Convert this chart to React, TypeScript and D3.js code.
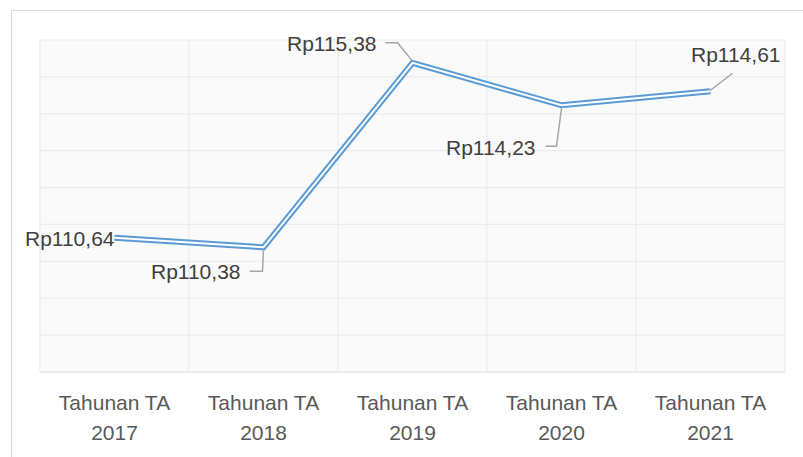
import React, { useEffect, useRef } from 'react';
import * as d3 from 'd3';

// data
const categories = ['Tahunan TA 2017', 'Tahunan TA 2018', 'Tahunan TA 2019', 'Tahunan TA 2020', 'Tahunan TA 2021'];
const values = [110.64, 110.38, 115.38, 114.23, 114.61];
const labels = ['Rp110,64', 'Rp110,38', 'Rp115,38', 'Rp114,23', 'Rp114,61'];
const yDomain = [107, 116];

// label placement relative to the point: text anchor point + leader polyline (dx, dy)
const labelPlacement = [
  { tx: 0, ty: 8, anchor: 'end', leader: null },
  { tx: -23, ty: 32, anchor: 'end', leader: [[-14, 24], [-1, 24], [0, 2]] },
  { tx: -36, ty: -12, anchor: 'end', leader: [[-27, -20], [-15, -20], [-1, -3]] },
  { tx: -26, ty: 50, anchor: 'end', leader: [[-16, 41], [-5, 41], [0, 3]] },
  { tx: 70, ty: -29, anchor: 'end', leader: [[22, -18], [0, -1]] },
];

const W = 803;
const H = 457;

const App = () => {
  const svgRef = useRef(null);

  useEffect(() => {
    const svg = d3.select(svgRef.current);
    svg.selectAll('*').remove();

    const left = 40, right = 785, top = 40, bottom = 372;

    const x = d3.scaleBand().domain(categories).range([left, right]);
    const y = d3.scaleLinear().domain(yDomain).range([bottom, top]);
    const cx = (c) => x(c) + x.bandwidth() / 2;

    // chart frame
    svg.append('rect')
      .attr('x', 11.5).attr('y', 10.5)
      .attr('width', W).attr('height', H)
      .attr('fill', '#fff').attr('stroke', '#d9d9d9').attr('stroke-width', 1);

    // plot area
    svg.append('rect')
      .attr('x', left).attr('y', top)
      .attr('width', right - left).attr('height', bottom - top)
      .attr('fill', '#fafafa');

    // horizontal gridlines
    svg.append('g')
      .selectAll('line')
      .data(d3.range(yDomain[0], yDomain[1] + 1))
      .enter()
      .append('line')
      .attr('x1', left).attr('x2', right)
      .attr('y1', d => y(d)).attr('y2', d => y(d))
      .attr('stroke', '#ececec').attr('stroke-width', 1.2);

    // vertical gridlines at category boundaries
    const bounds = categories.map(c => x(c)).concat([right]);
    svg.append('g')
      .selectAll('line')
      .data(bounds)
      .enter()
      .append('line')
      .attr('x1', d => d).attr('x2', d => d)
      .attr('y1', top).attr('y2', bottom)
      .attr('stroke', '#ececec').attr('stroke-width', 1.2);

    // bottom axis line
    svg.append('line')
      .attr('x1', left).attr('x2', right)
      .attr('y1', bottom).attr('y2', bottom)
      .attr('stroke', '#e2e2e2').attr('stroke-width', 1.2);

    // category labels (two lines)
    const catG = svg.append('g')
      .attr('font-family', '"Liberation Sans", Arial, sans-serif')
      .attr('font-size', 21)
      .attr('fill', '#595959')
      .attr('text-anchor', 'middle');
    categories.forEach(c => {
      const parts = c.split(' ');
      const t = catG.append('text').attr('x', cx(c)).attr('y', 410);
      t.append('tspan').attr('x', cx(c)).text(parts.slice(0, 2).join(' '));
      t.append('tspan').attr('x', cx(c)).attr('dy', 30).text(parts[2]);
    });

    // compound (double) line
    const line = d3.line()
      .x((d, i) => cx(categories[i]))
      .y(d => y(d));

    svg.append('path')
      .datum(values)
      .attr('d', line)
      .attr('fill', 'none')
      .attr('stroke', '#5b9bd5')
      .attr('stroke-width', 6)
      .attr('stroke-linejoin', 'miter');

    svg.append('path')
      .datum(values)
      .attr('d', line)
      .attr('fill', 'none')
      .attr('stroke', '#ffffff')
      .attr('stroke-width', 2)
      .attr('stroke-linejoin', 'miter');

    // leader lines
    labelPlacement.forEach((p, i) => {
      if (!p.leader) return;
      const px = cx(categories[i]);
      const py = y(values[i]);
      svg.append('path')
        .attr('d', d3.line()(p.leader.map(([dx, dy]) => [px + dx, py + dy])))
        .attr('fill', 'none')
        .attr('stroke', '#a6a6a6')
        .attr('stroke-width', 1.5);
    });

    // data labels
    const labG = svg.append('g')
      .attr('font-family', '"Liberation Sans", Arial, sans-serif')
      .attr('font-size', 21)
      .attr('fill', '#404040');
    labelPlacement.forEach((p, i) => {
      labG.append('text')
        .attr('x', cx(categories[i]) + p.tx)
        .attr('y', y(values[i]) + p.ty)
        .attr('text-anchor', p.anchor)
        .text(labels[i]);
    });
  }, []);

  return (
    <svg
      ref={svgRef}
      width={W}
      height={H}
      style={{ position: 'absolute', left: 0, top: 0, display: 'block' }}
    ></svg>
  );
};

export default App;
